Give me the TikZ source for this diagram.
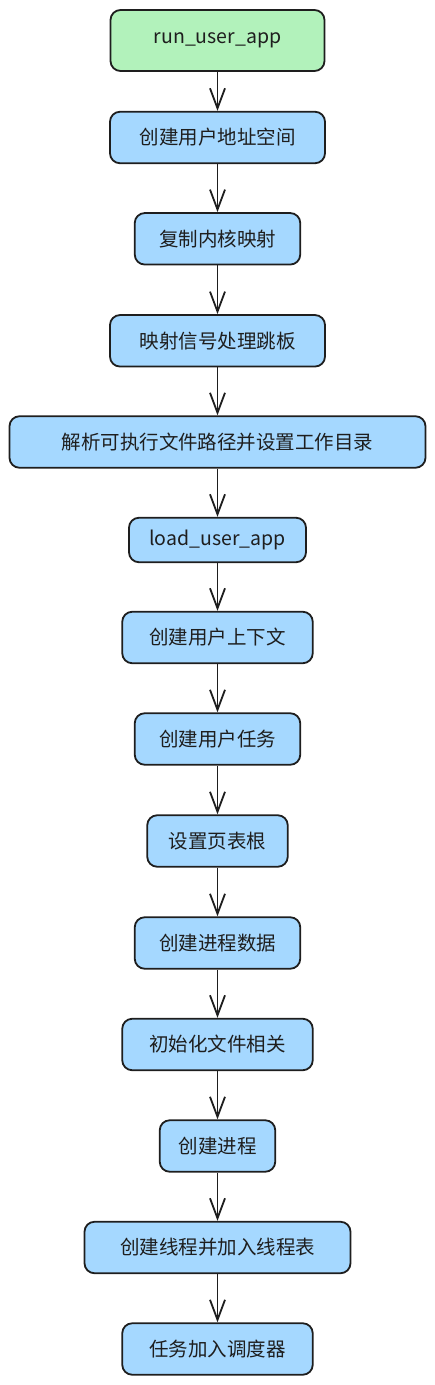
\documentclass[tikz,border=0pt]{standalone}
\usepackage{fontspec}
\setmainfont{Noto Sans CJK SC}
\usetikzlibrary{arrows.meta}
\definecolor{boxblue}{HTML}{A5D8FF}
\definecolor{boxgreen}{HTML}{B2F2BB}
\definecolor{ink}{HTML}{1E1E1E}
\tikzset{
  stepbox/.style={draw=ink, line width=1.8pt, fill=boxblue, rounded corners=10pt,
    minimum height=51.5pt, inner sep=0pt, text=ink,
    font=\fontsize{19.5pt}{22pt}\selectfont, anchor=center},
  startbox/.style={stepbox, fill=boxgreen, minimum height=61pt},
  flow/.style={draw=ink, line width=1.8pt, -{Straight Barb[length=20pt,width=15pt,line width=1.8pt]}}
}
\begin{document}
\begin{tikzpicture}[x=1pt,y=-1pt]
\useasboundingbox (0,0) rectangle (435,1385);
\node[startbox, minimum width=214pt] (n1) at (217.5,40.5) {run\_user\_app};
\node[stepbox, minimum width=215pt] (n2) at (217.5,137.5) {创建用户地址空间};
\node[stepbox, minimum width=165.5pt] (n3) at (217.5,238.8) {复制内核映射};
\node[stepbox, minimum width=215pt] (n4) at (217.5,340.8) {映射信号处理跳板};
\node[stepbox, minimum width=416pt] (n5) at (217.5,442) {解析可执行文件路径并设置工作目录};
\node[stepbox, minimum width=177pt, minimum height=44.5pt] (n6) at (217.5,540) {load\_user\_app};
\node[stepbox, minimum width=190.5pt] (n7) at (217.5,637.5) {创建用户上下文};
\node[stepbox, minimum width=165.5pt] (n8) at (217.5,739) {创建用户任务};
\node[stepbox, minimum width=140.5pt] (n9) at (217.5,841) {设置页表根};
\node[stepbox, minimum width=165.5pt] (n10) at (217.5,943) {创建进程数据};
\node[stepbox, minimum width=190.5pt] (n11) at (217.5,1044.5) {初始化文件相关};
\node[stepbox, minimum width=115.5pt] (n12) at (217.5,1146) {创建进程};
\node[stepbox, minimum width=266pt] (n13) at (217.5,1247.5) {创建线程并加入线程表};
\node[stepbox, minimum width=190.5pt] (n14) at (217.5,1349) {任务加入调度器};
\foreach \a/\b in {n1/n2,n2/n3,n3/n4,n4/n5,n5/n6,n6/n7,n7/n8,n8/n9,n9/n10,n10/n11,n11/n12,n12/n13,n13/n14}
  \draw[flow] (\a.south) -- (\b.north);
\end{tikzpicture}
\end{document}
